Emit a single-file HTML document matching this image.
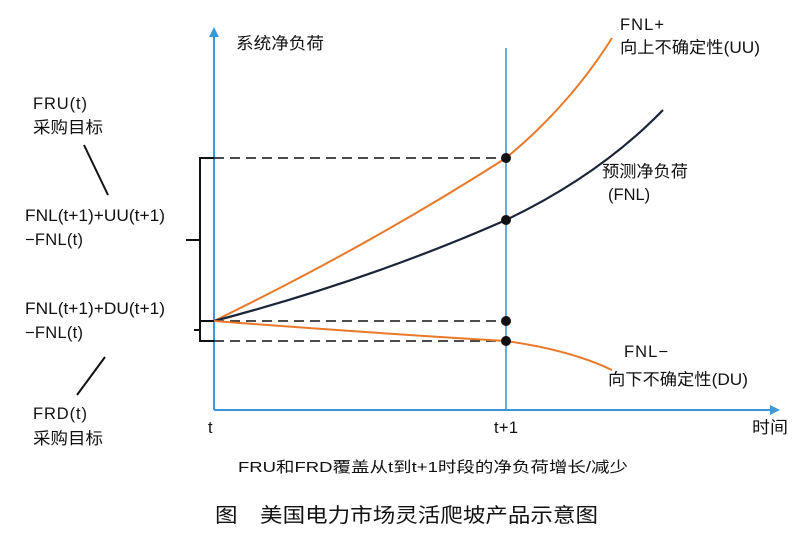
<!DOCTYPE html>
<html><head><meta charset="utf-8"><style>
html,body{margin:0;padding:0;background:#fff;}
svg{display:block;}
text{font-family:"Liberation Sans","Noto Sans CJK SC",sans-serif;fill:#111;}
</style></head><body>
<svg width="800" height="542" viewBox="0 0 800 542" xmlns="http://www.w3.org/2000/svg">
<defs>
<marker id="ar" markerWidth="10" markerHeight="10" refX="5" refY="5" orient="auto" markerUnits="userSpaceOnUse">
<path d="M0,0 L10,5 L0,10 Z" fill="#3a9ad9"/></marker>
</defs>
<line x1="214" y1="410" x2="214" y2="32" stroke="#3a9ad9" stroke-width="2" marker-end="url(#ar)"/>
<line x1="214" y1="410" x2="775" y2="410" stroke="#3a9ad9" stroke-width="2" marker-end="url(#ar)"/>
<line x1="506" y1="48" x2="506" y2="410" stroke="#3a9ad9" stroke-width="1.6"/>
<g stroke="#111" stroke-width="1.6" stroke-dasharray="10,6">
<line x1="214" y1="158" x2="506" y2="158"/>
<line x1="214" y1="321" x2="506" y2="321"/>
<line x1="214" y1="341" x2="506" y2="341"/>
</g>
<g stroke="#111" stroke-width="2" fill="none">
<path d="M214,158 H200 V341 H214"/>
<line x1="186" y1="240" x2="200" y2="240"/>
<line x1="200" y1="321" x2="214" y2="321"/>
<line x1="194" y1="330" x2="200" y2="330"/>
<line x1="84" y1="145" x2="108" y2="195"/>
<line x1="105" y1="357" x2="77" y2="395"/>
</g>
<path d="M214,321 Q370,245 506,158 Q570,105 612,38" stroke="#e8792a" stroke-width="2" fill="none"/>
<path d="M214,321 Q370,280 506,220 Q600,175 663,110" stroke="#1c2438" stroke-width="2.2" fill="none"/>
<path d="M214,321 Q370,333 506,341 Q570,350 612,370" stroke="#e8792a" stroke-width="2" fill="none"/>
<g fill="#111">
<circle cx="506" cy="158" r="5"/><circle cx="506" cy="220" r="5"/>
<circle cx="506" cy="321" r="5"/><circle cx="506" cy="341" r="5"/>
</g>
<g font-size="16.5">
<text x="236" y="49" textLength="88" lengthAdjust="spacingAndGlyphs">系统净负荷</text>
<text x="620" y="30" textLength="44">FNL+</text>
<text x="620" y="53" textLength="140" lengthAdjust="spacingAndGlyphs">向上不确定性(UU)</text>
<text x="602" y="177" textLength="86" lengthAdjust="spacingAndGlyphs">预测净负荷</text>
<text x="608" y="200">(FNL)</text>
<text x="624" y="357" textLength="44">FNL−</text>
<text x="608" y="385" textLength="140" lengthAdjust="spacingAndGlyphs">向下不确定性(DU)</text>
<text x="33" y="109" textLength="54">FRU(t)</text>
<text x="33" y="133" textLength="70" lengthAdjust="spacingAndGlyphs">采购目标</text>
<text x="25" y="221" textLength="140" lengthAdjust="spacingAndGlyphs">FNL(t+1)+UU(t+1)</text>
<text x="25" y="245" textLength="58">−FNL(t)</text>
<text x="25" y="314" textLength="140" lengthAdjust="spacingAndGlyphs">FNL(t+1)+DU(t+1)</text>
<text x="25" y="338" textLength="58">−FNL(t)</text>
<text x="33" y="419" textLength="54">FRD(t)</text>
<text x="33" y="444" textLength="70" lengthAdjust="spacingAndGlyphs">采购目标</text>
<text x="208" y="433">t</text>
<text x="494" y="433" textLength="24">t+1</text>
<text x="752" y="433" textLength="36" lengthAdjust="spacingAndGlyphs">时间</text>
<text x="238" y="472" font-size="15" textLength="390" lengthAdjust="spacingAndGlyphs">FRU和FRD覆盖从t到t+1时段的净负荷增长/减少</text>
</g>
<text x="215" y="522" font-size="20" textLength="383" lengthAdjust="spacingAndGlyphs">图　美国电力市场灵活爬坡产品示意图</text>
</svg>
</body></html>
